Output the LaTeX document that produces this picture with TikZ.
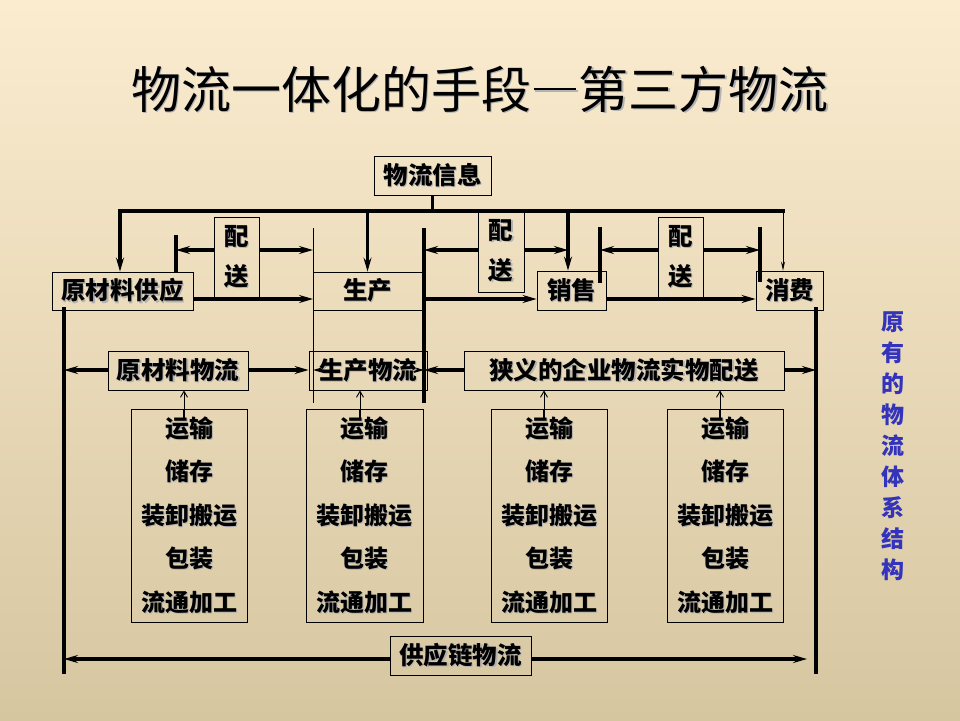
\documentclass[tikz,border=0pt]{standalone}
\usepackage{fontspec}
\newfontfamily\cjk{Noto Sans CJK SC}
\usetikzlibrary{arrows.meta}
\definecolor{bgtop}{RGB}{251,236,208}
\definecolor{bgmid}{RGB}{244,236,214}
\definecolor{bgbot}{RGB}{214,198,160}
\definecolor{sideblue}{RGB}{51,51,187}
\newcommand\shd[1]{\makebox[0pt][l]{\kern1.4pt\raisebox{-1.4pt}{\textcolor{black!30}{#1}}}#1}
\newcommand\ldash{\kern0.05em\rule[0.36em]{0.85em}{0.045em}\kern0.05em}
\begin{document}
\begin{tikzpicture}[x=1pt,y=-1pt,
  box/.style={draw, line width=0.8pt, inner sep=0pt, align=center,
    font=\cjk\bfseries\fontsize{24.5}{24.5}\selectfont},
  psbox/.style={box, font=\cjk\bfseries\fontsize{24.5}{40}\selectfont},
  fbox/.style={box, minimum width=116, minimum height=213,
    font=\cjk\bfseries\fontsize{24}{43.5}\selectfont},
  thk/.style={line width=3.6pt},
  thn/.style={line width=0.9pt},
  arr/.style={-{Stealth[length=14pt,width=8pt,inset=5pt]}},
  sarr/.style={thn, -{Straight Barb[length=6pt,width=7pt]}},
]
\useasboundingbox (0,0) rectangle (960,720);
\fill[top color=bgtop, middle color=bgmid, bottom color=bgbot] (0,0) rectangle (960,720);

% level coordinates
\coordinate (hl) at (0,211);
\coordinate (r1) at (0,250);
\coordinate (r2) at (0,299);
\coordinate (r3) at (0,370);
\coordinate (r5) at (0,659);
\coordinate (hL) at (120,211);
\coordinate (hR) at (783,211);
\coordinate (dXS) at (568,211);
\coordinate (bA1) at (176,235);
\coordinate (pL1) at (313,228);
\coordinate (pL2) at (313,403);
\coordinate (bB1) at (424,228);
\coordinate (bB2) at (424,403);
\coordinate (bC1) at (600,227);
\coordinate (bC2) at (600,283);
\coordinate (bD1) at (760,227);
\coordinate (bD2) at (760,282);
\coordinate (vL1) at (64,307);
\coordinate (vL2) at (64,674);
\coordinate (vR1) at (816,307);
\coordinate (vR2) at (816,674);
\coordinate (e5) at (807,659);
\coordinate (s1) at (324,370);
\coordinate (s2) at (414,370);

% arrows hidden under the text of 生产物流
\draw[thk,arr] (s1) -- (pL1 |- r3);
\draw[thk,arr] (s2) -- (bB1 |- r3);

% title
\node[font=\cjk\fontsize{50}{50}\selectfont] (title) at (480,90) {\shd{物流一体化的手段\ldash 第三方物流}};

% boxes
\node[box, minimum width=117, minimum height=39] (info) at (432.5,175.5) {\shd{物流信息}};
\node[box, minimum width=141, minimum height=38] (ycl) at (122.5,291) {\shd{原材料供应}};
\node[box, minimum width=109, minimum height=38] (sc) at (367.5,291) {\shd{生产}};
\node[box, minimum width=69, minimum height=39] (xs) at (571.5,290.5) {\shd{销售}};
\node[box, minimum width=67, minimum height=39] (xf) at (789.5,290.5) {\shd{消费}};
\node[psbox, minimum width=45, minimum height=80] (ps1) at (236.5,257) {\shd{配}\\\shd{送}};
\node[psbox, minimum width=46, minimum height=82] (ps2) at (501,251) {\shd{配}\\\shd{送}};
\node[psbox, minimum width=45, minimum height=80] (ps3) at (680.5,257) {\shd{配}\\\shd{送}};
\node[box, minimum width=140, minimum height=39] (yclwl) at (178,370.5) {\shd{原材料物流}};
\node[box, minimum width=118, minimum height=39] (scwl) at (368,370.5) {\shd{生产物流}};
\node[box, minimum width=320, minimum height=39] (xy) at (624,370.5) {\shd{狭义的企业物流实物配送}};
\node[fbox] (fA) at (189,515.5) {\shd{运输}\\\shd{储存}\\\shd{装卸搬运}\\\shd{包装}\\\shd{流通加工}};
\node[fbox, minimum width=117] (fB) at (364.5,515.5) {\shd{运输}\\\shd{储存}\\\shd{装卸搬运}\\\shd{包装}\\\shd{流通加工}};
\node[fbox] (fC) at (549,515.5) {\shd{运输}\\\shd{储存}\\\shd{装卸搬运}\\\shd{包装}\\\shd{流通加工}};
\node[fbox] (fD) at (725,515.5) {\shd{运输}\\\shd{储存}\\\shd{装卸搬运}\\\shd{包装}\\\shd{流通加工}};
\node[box, minimum width=141, minimum height=39] (gyl) at (460.5,655.5) {\shd{供应链物流}};

% side label
\node[font=\cjk\bfseries\fontsize{23}{31}\selectfont, text=sideblue, align=center, inner sep=0pt]
  (side) at (893,446) {原\\有\\的\\物\\流\\体\\系\\结\\构};

% information distribution
\draw[thk] (info.south) -- (info.south |- hl);
\draw[thk, line cap=rect] (hL) -- (hR);
\draw[thk,arr] (hL) -- (hL |- ycl.north);
\draw[thk,arr] (sc.north |- hl) -- (sc.north);
\draw[thk,arr] (dXS) -- (dXS |- xs.north);
\draw[thn,-{Stealth[length=9pt,width=4pt]}] (hR) -- (hR |- xf.north);

% bars and verticals
\draw[thk] (bA1) -- (bA1 |- ycl.north);
\draw[thn] (pL1) -- (pL2);
\draw[thk] (bB1) -- (bB2);
\draw[thk] (bC1) -- (bC2);
\draw[thk] (bD1) -- (bD2);
\draw[thk] (vL1) -- (vL2);
\draw[thk] (vR1) -- (vR2);

% row 1: 配送 arrows
\draw[thk,arr] (ps1.west |- r1) -- (bA1 |- r1);
\draw[thk,arr] (ps1.east |- r1) -- (pL1 |- r1);
\draw[thk,arr] (ps2.west |- r1) -- (bB1 |- r1);
\draw[thk,arr] (ps2.east |- r1) -- (dXS |- r1);
\draw[thk,arr] (ps3.west |- r1) -- (bC1 |- r1);
\draw[thk,arr] (ps3.east |- r1) -- (bD1 |- r1);

% row 2: material flow
\draw[thk,arr] (ycl.east |- r2) -- (pL1 |- r2);
\draw[thk,arr] (bB1 |- r2) -- (xs.west |- r2);
\draw[thk,arr] (xs.east |- r2) -- (xf.west |- r2);

% row 3
\draw[thk,arr] (yclwl.west |- r3) -- (vL1 |- r3);
\draw[thk,arr] (yclwl.east |- r3) -- (scwl.west |- r3);
\draw[thk,arr] (xy.west |- r3) -- (bB1 |- r3);
\draw[thk,arr] (xy.east |- r3) -- (vR1 |- r3);

% function boxes up-arrows
\foreach \n/\xx/\t in {fA/184/yclwl, fB/360/scwl, fC/544/xy, fD/720/xy}{
  \coordinate (u) at (\xx,0);
  \draw[sarr] (u |- \n.north) -- (u |- \t.south);
  \draw[line width=2.6pt] (u |- \n.north) -- ++(0,10);
}

% supply chain
\draw[thk,arr] (gyl.west |- r5) -- (vL1 |- r5);
\draw[thk,arr] (gyl.east |- r5) -- (e5);
\end{tikzpicture}
\end{document}
